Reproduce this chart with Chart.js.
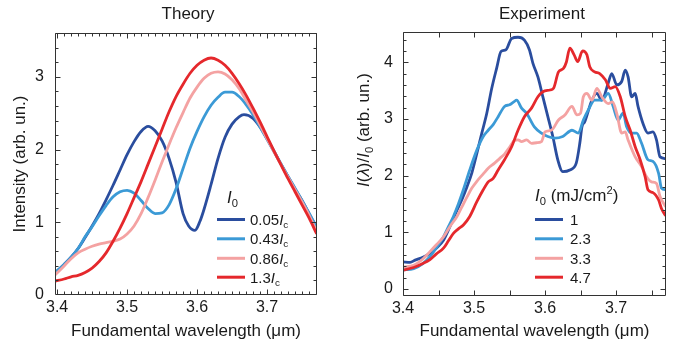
<!DOCTYPE html>
<html><head><meta charset="utf-8">
<script src="https://cdn.jsdelivr.net/npm/chart.js@4"></script>
<style>
html,body{margin:0;padding:0;background:#fff;}
#wrap{position:relative;width:689px;height:350px;overflow:hidden;}
canvas{position:absolute;top:0;}
#c1{left:0;} #c2{left:345px;}
</style></head><body>
<div id="wrap"><canvas id="c1" width="345" height="350"></canvas><canvas id="c2" width="344" height="350"></canvas></div>
<script>
// ---------- DATA ----------
const seriesColors = ['#2a4d9e', '#3b9ad6', '#f4a2a2', '#e5282c'];

// Theory
const thLabels = ['0.05', '0.43', '0.86', '1.3'];
const thXTicks = [3.4, 3.5, 3.6, 3.7];
const thYTicks = [0, 1, 2, 3];
const thX = [3.397,3.41,3.42,3.43,3.44,3.45,3.46,3.47,3.48,3.49,3.50,3.51,3.52,3.53,3.54,3.55,3.56,3.57,3.58,3.59,3.60,3.61,3.62,3.63,3.64,3.65,3.66,3.67,3.68,3.69,3.70,3.71,3.72,3.73,3.74,3.75,3.76,3.771];
const th1X = [3.397,3.41,3.42,3.43,3.44,3.45,3.46,3.47,3.48,3.49,3.50,3.51,3.52,3.53,3.54,3.55,3.56,3.57,3.58,3.588,3.597,3.604,3.61,3.62,3.63,3.64,3.65,3.66,3.667,3.68,3.69,3.70,3.71,3.72,3.73,3.74,3.75,3.76,3.771];
const th1Y = [0.30,0.42,0.52,0.64,0.79,0.95,1.12,1.31,1.51,1.72,1.93,2.11,2.25,2.32,2.26,2.12,1.88,1.55,1.12,0.95,0.89,1.01,1.18,1.52,1.88,2.17,2.35,2.45,2.48,2.43,2.31,2.15,1.98,1.80,1.63,1.46,1.30,1.12,0.92];
const th2Y = [0.31,0.42,0.52,0.64,0.80,0.94,1.09,1.23,1.35,1.42,1.44,1.40,1.30,1.19,1.12,1.13,1.24,1.46,1.74,2.02,2.25,2.45,2.61,2.72,2.79,2.79,2.73,2.62,2.48,2.31,2.14,1.97,1.80,1.63,1.47,1.30,1.13,0.93];
const th3Y = [0.275,0.40,0.50,0.58,0.63,0.67,0.70,0.72,0.74,0.77,0.84,0.95,1.12,1.34,1.58,1.83,2.07,2.30,2.51,2.71,2.86,2.98,3.05,3.07,3.04,2.96,2.84,2.68,2.52,2.34,2.15,1.97,1.79,1.62,1.45,1.28,1.10,0.87];
const th4Y = [0.19,0.22,0.25,0.27,0.31,0.37,0.46,0.58,0.74,0.92,1.12,1.34,1.56,1.80,2.04,2.28,2.52,2.73,2.90,3.05,3.16,3.23,3.26,3.23,3.16,3.05,2.91,2.75,2.57,2.38,2.18,1.98,1.79,1.60,1.42,1.24,1.06,0.84];

// Experiment
const exLabels = ['1', '2.3', '3.3', '4.7'];
const exXTicks = [3.4, 3.5, 3.6, 3.7];
const exYTicks = [0, 1, 2, 3, 4];
const ex1X = [3.400,3.410,3.417,3.428,3.438,3.447,3.457,3.466,3.476,3.483,3.490,3.497,3.504,3.511,3.518,3.525,3.532,3.538,3.545,3.553,3.562,3.571,3.578,3.583,3.590,3.597,3.604,3.611,3.618,3.625,3.635,3.644,3.649,3.652,3.656,3.666,3.673,3.680,3.689,3.694,3.701,3.708,3.713,3.717,3.722,3.727,3.731,3.738,3.745,3.752,3.757,3.762,3.770];
const ex1Y = [0.48,0.47,0.51,0.56,0.63,0.72,0.86,1.10,1.39,1.58,1.80,2.05,2.39,2.75,3.10,3.54,3.90,4.19,4.22,4.42,4.44,4.39,4.22,3.98,3.74,3.39,3.04,2.69,2.28,2.07,2.10,2.22,2.57,2.86,2.95,3.33,3.45,3.33,3.63,3.80,3.60,3.66,3.86,3.74,3.39,3.45,3.22,2.92,2.75,2.77,2.63,2.33,2.30];
const ex2X = [3.400,3.415,3.428,3.438,3.447,3.457,3.464,3.471,3.478,3.485,3.494,3.504,3.513,3.520,3.527,3.534,3.543,3.550,3.556,3.560,3.567,3.574,3.585,3.595,3.604,3.614,3.625,3.638,3.647,3.654,3.661,3.670,3.680,3.689,3.696,3.703,3.710,3.715,3.722,3.729,3.736,3.745,3.752,3.760,3.764,3.770];
const ex2Y = [0.335,0.36,0.45,0.57,0.73,0.92,1.10,1.28,1.50,1.75,2.10,2.45,2.69,2.80,2.90,3.04,3.22,3.25,3.30,3.33,3.19,3.10,2.86,2.75,2.69,2.66,2.69,2.80,2.75,2.98,3.16,3.33,3.33,3.45,3.22,2.98,3.10,2.86,2.75,2.75,2.57,2.28,2.25,2.04,1.78,1.75];
const ex3X = [3.400,3.415,3.428,3.438,3.447,3.457,3.466,3.476,3.483,3.490,3.497,3.504,3.513,3.520,3.529,3.536,3.543,3.550,3.557,3.562,3.567,3.574,3.581,3.588,3.595,3.600,3.609,3.619,3.628,3.638,3.645,3.650,3.654,3.659,3.666,3.673,3.680,3.689,3.695,3.701,3.708,3.713,3.717,3.727,3.736,3.743,3.750,3.757,3.762,3.770];
const ex3Y = [0.39,0.42,0.53,0.66,0.78,0.92,1.10,1.28,1.45,1.62,1.78,1.90,2.03,2.13,2.22,2.30,2.38,2.50,2.62,2.63,2.60,2.63,2.57,2.58,2.60,2.77,2.80,2.98,3.07,3.22,3.07,3.10,3.39,3.45,3.33,3.54,3.39,3.27,3.30,3.10,2.75,2.77,2.63,2.33,2.16,1.98,1.89,1.86,1.63,1.45];
const ex4X = [3.400,3.415,3.428,3.438,3.447,3.457,3.464,3.471,3.478,3.485,3.494,3.504,3.513,3.520,3.527,3.534,3.543,3.553,3.562,3.571,3.581,3.590,3.597,3.607,3.612,3.619,3.626,3.630,3.635,3.641,3.646,3.653,3.659,3.663,3.670,3.677,3.685,3.692,3.699,3.706,3.713,3.720,3.727,3.734,3.741,3.745,3.752,3.760,3.764,3.770];
const ex4Y = [0.335,0.38,0.45,0.52,0.62,0.72,0.85,0.98,1.06,1.13,1.28,1.54,1.75,1.89,1.95,2.10,2.28,2.51,2.80,3.04,3.19,3.39,3.48,3.51,3.54,3.83,3.89,4.00,4.25,4.13,4.01,4.20,4.13,3.92,3.83,3.80,3.69,3.54,3.57,3.39,3.04,2.80,2.51,2.28,1.98,1.75,1.70,1.57,1.42,1.29];

// ---------- HELPERS ----------
const FONT = '"Liberation Sans", Arial, Helvetica, sans-serif';
const TXT = '#1a1a1a';
Chart.defaults.font.family = FONT;
Chart.defaults.color = TXT;

function fontFor(s, size) {
  const sz = (s.sub || s.sup) ? size * 0.66 : size;
  return (s.it ? 'italic ' : '') + sz + 'px ' + FONT;
}
function richWidth(ctx, segs, size) {
  let w = 0;
  segs.forEach(s => { ctx.font = fontFor(s, size); w += ctx.measureText(s.t).width; });
  return w;
}
function drawRich(ctx, x, y, segs, size, align) {
  ctx.textAlign = 'left'; ctx.textBaseline = 'alphabetic'; ctx.fillStyle = TXT;
  let cx = align === 'center' ? x - richWidth(ctx, segs, size) / 2 : x;
  segs.forEach(s => {
    ctx.font = fontFor(s, size);
    const dy = s.sub ? size * 0.22 : (s.sup ? -size * 0.40 : 0);
    ctx.fillText(s.t, cx, y + dy);
    cx += ctx.measureText(s.t).width;
  });
}
function ds(label, xs, ys, color, order) {
  return { label, data: xs.map((x, i) => ({ x, y: ys[i] })), borderColor: color, borderWidth: 2.8,
    pointRadius: 0, fill: false, cubicInterpolationMode: 'monotone', order };
}
function range(a, b, step) { const out = []; for (let v = a; v <= b + 1e-9; v += step) out.push(+v.toFixed(4)); return out; }

function framePlugin(spec) {
  return {
    id: 'frame',
    afterDatasetsDraw(chart) {
      const { ctx, chartArea: a, scales: { x, y } } = chart;
      ctx.save();
      ctx.strokeStyle = '#333'; ctx.lineWidth = 1;
      const L = Math.round(a.left) + 0.5, R = Math.round(a.right) - 0.5, T = Math.round(a.top) + 0.5, B = Math.round(a.bottom) - 0.5;
      ctx.beginPath();
      ctx.rect(L, T, R - L, B - T);
      spec.xt.forEach(([v, len]) => {
        const p = Math.round(x.getPixelForValue(v)) + 0.5;
        if (p < L || p > R) return;
        ctx.moveTo(p, B); ctx.lineTo(p, B - len);
        ctx.moveTo(p, T); ctx.lineTo(p, T + len);
      });
      spec.yt.forEach(([v, len]) => {
        const p = Math.round(y.getPixelForValue(v)) + 0.5;
        if (p < T || p > B) return;
        ctx.moveTo(L, p); ctx.lineTo(L + len, p);
        ctx.moveTo(R, p); ctx.lineTo(R - len, p);
      });
      ctx.stroke();
      ctx.restore();
      spec.extra(ctx, chart);
    }
  };
}
function drawLegend(ctx, chart, x0, x1, tx, rows, labels, suffix) {
  chart.data.datasets.slice().sort((a, b) => b.order - a.order).forEach((d, i) => {
    const yy = rows[i];
    ctx.save();
    ctx.strokeStyle = d.borderColor; ctx.lineWidth = 3; ctx.lineCap = 'butt';
    ctx.beginPath(); ctx.moveTo(x0, yy); ctx.lineTo(x1, yy); ctx.stroke();
    ctx.restore();
    drawRich(ctx, tx, yy + 5.3, [{ t: labels[i] }].concat(suffix), 15, 'left');
  });
}

const legendRows = [219.5, 238.8, 258.3, 277.2];

// ---------- THEORY ----------
const xtTh = range(3.40, 3.77, 0.01).map(v => [v, Math.abs(v * 10 - Math.round(v * 10)) < 1e-6 ? 5 : 3]);
const ytTh = range(0, 3.6, 0.2).map(v => [v, Math.abs(v - Math.round(v)) < 1e-6 ? 5 : 3]);
new Chart(document.getElementById('c1'), {
  type: 'line',
  data: { datasets: [
    ds(thLabels[0], th1X, th1Y, seriesColors[0], 4),
    ds(thLabels[1], thX, th2Y, seriesColors[1], 3),
    ds(thLabels[2], thX, th3Y, seriesColors[2], 2),
    ds(thLabels[3], thX, th4Y, seriesColors[3], 1)
  ]},
  options: {
    responsive: false, animation: false, devicePixelRatio: 1,
    layout: { padding: { top: 33, right: 28, left: 0, bottom: 0 } },
    plugins: { legend: { display: false }, tooltip: { enabled: false } },
    scales: {
      x: { type: 'linear', min: 3.397, max: 3.7714,
        afterBuildTicks: s => { s.ticks = thXTicks.map(v => ({ value: v })); },
        afterFit: s => { s.height = 55; },
        grid: { display: false, drawTicks: false }, border: { display: false },
        ticks: { padding: 3, font: { size: 16 }, color: TXT, maxRotation: 0, callback: v => v.toFixed(1) },
        title: { display: true, text: 'Fundamental wavelength (μm)', font: { size: 17 }, color: TXT, padding: { top: 0, bottom: 8 } }
      },
      y: { type: 'linear', min: 0, max: 3.604,
        afterBuildTicks: s => { s.ticks = thYTicks.map(v => ({ value: v })); },
        afterFit: s => { s.width = 55; },
        grid: { display: false, drawTicks: false }, border: { display: false },
        ticks: { padding: 11, font: { size: 16 }, color: TXT, callback: v => String(v) },
        title: { display: true, text: 'Intensity (arb. un.)', font: { size: 17 }, color: TXT, padding: { top: 10, bottom: 0 } }
      }
    }
  },
  plugins: [framePlugin({ xt: xtTh, yt: ytTh, extra: (ctx, chart) => {
    ctx.save();
    ctx.fillStyle = TXT; ctx.font = '17px ' + FONT; ctx.textAlign = 'center'; ctx.textBaseline = 'alphabetic';
    ctx.fillText('Theory', 188, 18.5);
    drawRich(ctx, 227, 203, [{ t: 'I', it: 1 }, { t: '0', sub: 1 }], 17, 'left');
    drawLegend(ctx, chart, 217, 245, 250, legendRows, thLabels, [{ t: 'I', it: 1 }, { t: 'c', sub: 1 }]);
    ctx.restore();
  }})]
});

// ---------- EXPERIMENT ----------
const xtEx = range(3.40, 3.77, 0.05).map(v => [v, 5]);
const ytEx = range(0, 4.4, 0.2).map(v => [v, Math.abs(v - Math.round(v)) < 1e-6 ? 5 : 3]);
new Chart(document.getElementById('c2'), {
  type: 'line',
  data: { datasets: [
    ds(exLabels[0], ex1X, ex1Y, seriesColors[0], 4),
    ds(exLabels[1], ex2X, ex2Y, seriesColors[1], 3),
    ds(exLabels[2], ex3X, ex3Y, seriesColors[2], 2),
    ds(exLabels[3], ex4X, ex4Y, seriesColors[3], 1)
  ]},
  options: {
    responsive: false, animation: false, devicePixelRatio: 1,
    layout: { padding: { top: 32, right: 23, left: 0, bottom: 0 } },
    plugins: { legend: { display: false }, tooltip: { enabled: false } },
    scales: {
      x: { type: 'linear', min: 3.4, max: 3.7704,
        afterBuildTicks: s => { s.ticks = exXTicks.map(v => ({ value: v })); },
        afterFit: s => { s.height = 54; },
        grid: { display: false, drawTicks: false }, border: { display: false },
        ticks: { padding: 3, font: { size: 16 }, color: TXT, maxRotation: 0, callback: v => v.toFixed(1) },
        title: { display: true, text: 'Fundamental wavelength (μm)', font: { size: 17 }, color: TXT, padding: { top: 0, bottom: 8 } }
      },
      y: { type: 'linear', min: -0.123, max: 4.533,
        afterBuildTicks: s => { s.ticks = exYTicks.map(v => ({ value: v })); },
        afterFit: s => { s.width = 58; },
        grid: { display: false, drawTicks: false }, border: { display: false },
        ticks: { padding: 10, font: { size: 16 }, color: TXT, callback: v => String(v) }
      }
    }
  },
  plugins: [framePlugin({ xt: xtEx, yt: ytEx, extra: (ctx, chart) => {
    ctx.save();
    ctx.fillStyle = TXT; ctx.font = '17px ' + FONT; ctx.textAlign = 'center'; ctx.textBaseline = 'alphabetic';
    ctx.fillText('Experiment', 197, 18.5);
    ctx.save();
    ctx.translate(18, 130); ctx.rotate(-Math.PI / 2);
    drawRich(ctx, 0, 6, [{ t: 'I', it: 1 }, { t: '(' }, { t: 'λ', it: 1 }, { t: ')/' }, { t: 'I', it: 1 }, { t: '0', sub: 1 }, { t: ' (arb. un.)' }], 17, 'center');
    ctx.restore();
    drawRich(ctx, 190, 201, [{ t: 'I', it: 1 }, { t: '0', sub: 1 }, { t: ' (mJ/cm' }, { t: '2', sup: 1 }, { t: ')' }], 17, 'left');
    drawLegend(ctx, chart, 190, 218, 225, legendRows, exLabels, []);
    ctx.restore();
  }})]
});
</script>
</body></html>
